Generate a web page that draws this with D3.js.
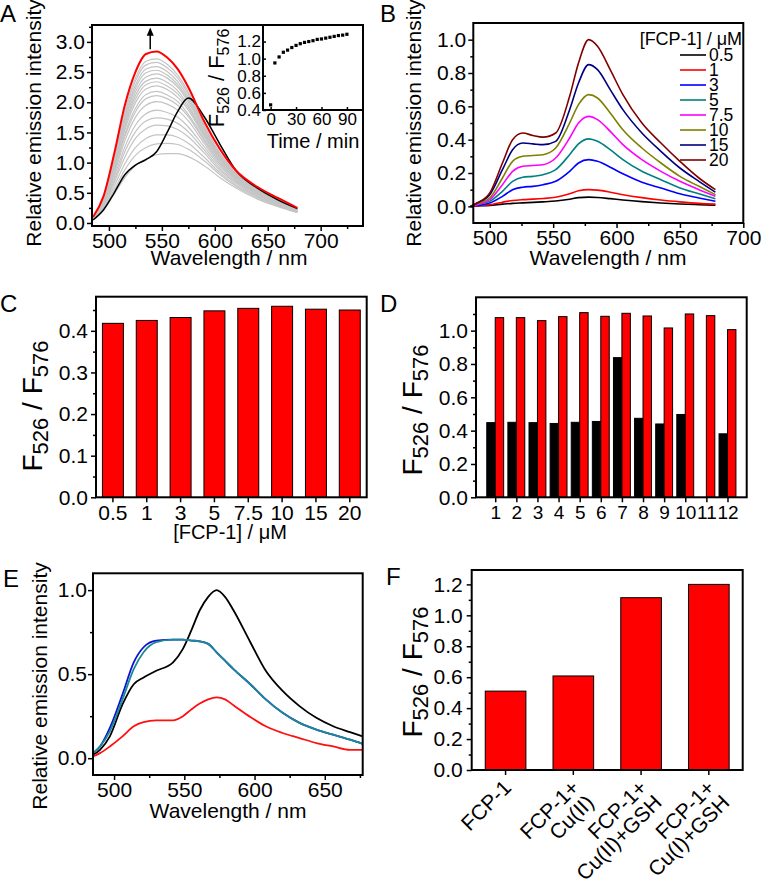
<!DOCTYPE html>
<html><head><meta charset="utf-8">
<script src="https://cdn.jsdelivr.net/npm/d3@7"></script>
<style>body{margin:0;background:#fff}svg{display:block}</style>
</head><body><svg id="c" width="762" height="896"></svg>
<script>
// ---------- Panel A data ----------
const A_wavelength = [485,495,505,515,525,535,545,555,565,575,590,605,620,640,660,678];
const A_red   = [0.10,0.45,1.15,1.95,2.50,2.80,2.84,2.74,2.55,2.25,1.68,1.22,0.87,0.60,0.41,0.25];
const A_black = [0.05,0.22,0.50,0.80,0.96,1.05,1.18,1.50,1.85,2.07,1.76,1.30,0.87,0.58,0.38,0.24];
const A_gray = [
 [0.06,0.22,0.48,0.75,0.95,1.06,1.13,1.15,1.15,1.10,0.95,0.75,0.58,0.40,0.27,0.17],
 [0.06,0.24,0.55,0.88,1.12,1.25,1.31,1.32,1.30,1.22,1.03,0.80,0.61,0.42,0.28,0.18],
 [0.07,0.26,0.61,0.98,1.25,1.40,1.46,1.46,1.42,1.32,1.09,0.83,0.63,0.44,0.29,0.18],
 [0.07,0.28,0.67,1.09,1.40,1.56,1.62,1.61,1.55,1.43,1.16,0.87,0.66,0.45,0.30,0.19],
 [0.07,0.30,0.71,1.18,1.51,1.69,1.74,1.72,1.65,1.51,1.21,0.90,0.68,0.47,0.31,0.19],
 [0.07,0.31,0.76,1.26,1.62,1.81,1.87,1.83,1.75,1.59,1.26,0.94,0.70,0.48,0.32,0.20],
 [0.08,0.33,0.81,1.36,1.75,1.95,2.01,1.97,1.87,1.69,1.32,0.97,0.72,0.49,0.33,0.20],
 [0.08,0.34,0.85,1.43,1.84,2.06,2.11,2.06,1.95,1.76,1.36,1.00,0.73,0.50,0.34,0.21],
 [0.08,0.35,0.88,1.47,1.90,2.13,2.18,2.12,2.01,1.80,1.39,1.01,0.75,0.51,0.34,0.21],
 [0.08,0.36,0.91,1.54,1.99,2.22,2.27,2.21,2.08,1.87,1.43,1.04,0.76,0.52,0.35,0.21],
 [0.08,0.37,0.94,1.59,2.05,2.29,2.34,2.27,2.14,1.91,1.46,1.05,0.77,0.53,0.35,0.22],
 [0.08,0.38,0.96,1.63,2.11,2.35,2.40,2.33,2.19,1.95,1.48,1.07,0.78,0.54,0.36,0.22],
 [0.09,0.39,0.99,1.68,2.17,2.42,2.47,2.40,2.25,2.00,1.51,1.09,0.79,0.54,0.36,0.22],
 [0.09,0.40,1.01,1.72,2.23,2.49,2.53,2.45,2.29,2.04,1.54,1.10,0.80,0.55,0.37,0.22],
 [0.09,0.40,1.03,1.76,2.28,2.55,2.59,2.51,2.34,2.08,1.57,1.12,0.81,0.56,0.37,0.23],
 [0.09,0.41,1.06,1.81,2.35,2.62,2.66,2.57,2.40,2.13,1.60,1.14,0.82,0.56,0.38,0.23],
 [0.09,0.42,1.08,1.85,2.40,2.68,2.72,2.63,2.45,2.17,1.62,1.15,0.83,0.57,0.38,0.23]
];
const A_xTicks = [500,550,600,650,700];
const A_yTicks = [0,0.5,1,1.5,2,2.5,3];
const inset_time  = [0,5,10,15,20,25,30,35,40,45,50,55,60,65,70,75,80,85,90];
const inset_ratio = [0.46,0.95,1.02,1.075,1.10,1.13,1.155,1.175,1.19,1.20,1.21,1.225,1.23,1.24,1.25,1.26,1.27,1.275,1.285];
const inset_xTicks = [0,30,60,90];
const inset_yTicks = [0.4,0.6,0.8,1.0,1.2];

// ---------- Panel B data ----------
const B_wavelength = [485,490,500,510,518,526,534,542,552,563,570,578,585,595,605,620,635,650,665,678];
const B_conc = ["0.5","1","3","5","7.5","10","15","20"];
const B_colors = ["#000000","#ff0000","#0000ff","#008080","#ff00ff","#808000","#000080","#800000"];
const B_c05 = [0.00,0.002,0.006,0.013,0.018,0.021,0.024,0.027,0.032,0.043,0.052,0.055,0.053,0.046,0.038,0.028,0.020,0.014,0.010,0.007];
const B_c1  = [0.00,0.003,0.010,0.025,0.035,0.040,0.043,0.047,0.055,0.075,0.093,0.100,0.097,0.085,0.070,0.052,0.038,0.027,0.018,0.013];
const B_c3  = [0.00,0.005,0.020,0.060,0.100,0.115,0.120,0.130,0.150,0.210,0.260,0.280,0.270,0.235,0.195,0.145,0.110,0.075,0.050,0.030];
const B_c5  = [0.00,0.010,0.030,0.090,0.150,0.175,0.180,0.190,0.220,0.310,0.375,0.405,0.390,0.340,0.280,0.210,0.160,0.110,0.075,0.045];
const B_c75 = [0.00,0.010,0.040,0.130,0.210,0.240,0.245,0.250,0.290,0.410,0.500,0.540,0.520,0.450,0.370,0.280,0.210,0.150,0.100,0.060];
const B_c10 = [0.00,0.015,0.050,0.170,0.270,0.300,0.305,0.310,0.350,0.500,0.610,0.670,0.650,0.560,0.460,0.350,0.260,0.180,0.120,0.070];
const B_c15 = [0.00,0.020,0.070,0.220,0.340,0.380,0.375,0.370,0.390,0.580,0.740,0.850,0.820,0.700,0.580,0.440,0.330,0.230,0.150,0.085];
const B_c20 = [0.00,0.020,0.080,0.260,0.400,0.440,0.425,0.415,0.440,0.660,0.860,1.000,0.960,0.820,0.670,0.500,0.380,0.270,0.170,0.100];
const B_xTicks = [500,550,600,650,700];
const B_yTicks = [0,0.2,0.4,0.6,0.8,1.0];

// ---------- Panel C data ----------
const C_labels = ["0.5","1","3","5","7.5","10","15","20"];
const C_ratio  = [0.418,0.425,0.432,0.448,0.454,0.459,0.452,0.450];
const C_yTicks = [0,0.1,0.2,0.3,0.4];

// ---------- Panel D data ----------
const D_index = [1,2,3,4,5,6,7,8,9,10,11,12];
const D_black = [0.448,0.450,0.448,0.443,0.450,0.455,0.838,0.474,0.440,0.497,0,0.381];
const D_red   = [1.078,1.078,1.060,1.084,1.108,1.086,1.104,1.088,1.016,1.100,1.090,1.006];
const D_yTicks = [0,0.2,0.4,0.6,0.8,1.0];

// ---------- Panel E data ----------
const E_wavelength = [485,490,497,506,514,521,530,542,549,555,561,567,573,579,585,597,608,620,632,644,656,668,677];
const E_black = [0.02,0.05,0.13,0.32,0.44,0.48,0.52,0.57,0.65,0.76,0.88,0.96,1.00,0.96,0.88,0.69,0.52,0.40,0.31,0.24,0.19,0.155,0.13];
const E_blue  = [0.03,0.07,0.18,0.38,0.57,0.66,0.70,0.705,0.705,0.70,0.695,0.68,0.63,0.58,0.53,0.44,0.35,0.27,0.21,0.17,0.14,0.11,0.085];
const E_teal  = [0.03,0.07,0.16,0.35,0.53,0.63,0.69,0.705,0.705,0.70,0.695,0.68,0.63,0.58,0.53,0.44,0.35,0.27,0.21,0.17,0.14,0.11,0.085];
const E_red   = [0.01,0.03,0.07,0.13,0.19,0.215,0.225,0.225,0.25,0.29,0.325,0.35,0.362,0.35,0.315,0.245,0.19,0.15,0.12,0.09,0.07,0.05,0.05];
const E_xTicks = [500,550,600,650];
const E_yTicks = [0,0.5,1.0];

// ---------- Panel F data ----------
const F_labels = [["FCP-1"],["FCP-1+","Cu(II)"],["FCP-1+","Cu(II)+GSH"],["FCP-1+","Cu(I)+GSH"]];
const F_ratio  = [0.51,0.608,1.114,1.200];
const F_yTicks = [0,0.2,0.4,0.6,0.8,1.0,1.2];

// ================= drawing =================
const FONT = '"Liberation Sans", Arial, Helvetica, sans-serif';
const svg = d3.select("#c");
const TS = 21; // tick font size

function styleAxis(g, fs) {
  g.select(".domain").remove();
  g.selectAll(".tick line").attr("stroke","#000").attr("stroke-width",1.5);
  g.selectAll(".tick text").attr("font-size",fs).attr("font-family",FONT).attr("fill","#000");
  return g;
}
function leftAxis(x0, y, ticks, minors, fmt, pad, fs, size) {
  size = size || 5;
  styleAxis(svg.append("g").attr("transform",`translate(${x0},0)`)
    .call(d3.axisLeft(y).tickValues(ticks).tickFormat(fmt).tickSize(size).tickPadding(pad)), fs);
  if (minors) styleAxis(svg.append("g").attr("transform",`translate(${x0},0)`)
    .call(d3.axisLeft(y).tickValues(minors).tickFormat(()=>"").tickSize(3)), fs);
}
function bottomAxis(y0, x, ticks, minors, fmt, pad, fs, size) {
  size = size || 5;
  const g = styleAxis(svg.append("g").attr("transform",`translate(0,${y0})`)
    .call(d3.axisBottom(x).tickValues(ticks).tickFormat(fmt).tickSize(size).tickPadding(pad)), fs);
  if (minors) styleAxis(svg.append("g").attr("transform",`translate(0,${y0})`)
    .call(d3.axisBottom(x).tickValues(minors).tickFormat(()=>"").tickSize(3)), fs);
  return g;
}
function frame(L,T,R,B,sw) {
  svg.append("rect").attr("x",L).attr("y",T).attr("width",R-L).attr("height",B-T)
    .attr("fill","none").attr("stroke","#000").attr("stroke-width",sw||2);
}
function text(x,y,str,fs,anchor,rot) {
  const t = svg.append("text").attr("font-family",FONT).attr("font-size",fs).attr("fill","#000")
    .attr("text-anchor",anchor||"middle");
  if (rot) t.attr("transform",`translate(${x},${y}) rotate(${rot})`);
  else t.attr("x",x).attr("y",y);
  t.text(str);
  return t;
}
function ratioTitle(x,y,fs,sub) {
  const t = svg.append("text").attr("font-family",FONT).attr("font-size",fs).attr("fill","#000")
    .attr("text-anchor","middle").attr("transform",`translate(${x},${y}) rotate(-90)`);
  const sh = fs*0.22;
  t.append("tspan").text("F");
  t.append("tspan").attr("font-size",sub).attr("dy",sh).text("526");
  t.append("tspan").attr("dy",-sh).text(" / F");
  t.append("tspan").attr("font-size",sub).attr("dy",sh).text("576");
}
function range(a,b,s){const r=[];for(let v=a;v<=b+1e-9;v+=s)r.push(+v.toFixed(4));return r;}
const f1 = d3.format(".1f");

// ---------- Panel A ----------
{
  const L=92,R=363,T=25,B=226;
  const x = d3.scaleLinear([484,740],[L,R]);
  const y = d3.scaleLinear([-0.05,3.28],[B,T]);
  const line = d3.line().x((d,i)=>x(A_wavelength[i])).y(d=>y(d)).curve(d3.curveMonotoneX);
  A_gray.forEach(s=>svg.append("path").attr("d",line(s)).attr("fill","none").attr("stroke","#c4c4c4").attr("stroke-width",1.2));
  svg.append("path").attr("d",line(A_black)).attr("fill","none").attr("stroke","#000").attr("stroke-width",1.5);
  svg.append("path").attr("d",line(A_red)).attr("fill","none").attr("stroke","#ff0000").attr("stroke-width",2);
  // arrow
  const ax = x(539);
  svg.append("line").attr("x1",ax).attr("x2",ax).attr("y1",y(2.88)).attr("y2",y(3.12)).attr("stroke","#000").attr("stroke-width",1.5);
  svg.append("path").attr("d",`M${ax-3.5},${y(3.1)}L${ax+3.5},${y(3.1)}L${ax},${y(3.24)}Z`).attr("fill","#000");
  leftAxis(L,y,A_yTicks,range(0.25,3.25,0.5),f1,2,TS);
  bottomAxis(B,x,A_xTicks,range(525,725,50),d3.format("d"),2,TS);
  // inset
  const iL=263,iR=363,iT=27,iB=110;
  const ix = d3.scaleLinear([-9,109],[iL,iR]);
  const iy = d3.scaleLinear([0.4,1.37],[iB,iT]);
  svg.append("g").selectAll("rect").data(inset_time).join("rect")
    .attr("x",(d)=>ix(d)-1.6).attr("y",(d,i)=>iy(inset_ratio[i])-1.6).attr("width",3.2).attr("height",3.2).attr("fill","#000");
  leftAxis(iL,iy,inset_yTicks,null,f1,2,17,-3);
  bottomAxis(iB,ix,inset_xTicks,null,d3.format("d"),3,17,-3);
  svg.append("path").attr("d",`M${iL},${T}V${iB}H${R}`).attr("fill","none").attr("stroke","#000").attr("stroke-width",2);
  frame(L,T,R,B);
  text(41,123,"Relative emission intensity",21,"middle",-90);
  text(229,265,"Wavelength / nm",21);
  text(313,148,"Time / min",20);
  ratioTitle(224,78,22,16);
  text(0,22,"A",24,"start");
}

// ---------- Panel B ----------
{
  const L=473.3,R=743.3,T=23,B=223;
  const x = d3.scaleLinear([487,700],[L,R]);
  const y = d3.scaleLinear([-0.1,1.1],[B,T]);
  const line = d3.line().x((d,i)=>x(B_wavelength[i])).y(d=>y(d)).curve(d3.curveMonotoneX);
  const series = [B_c05,B_c1,B_c3,B_c5,B_c75,B_c10,B_c15,B_c20];
  series.forEach((s,i)=>svg.append("path").attr("d",line(s)).attr("fill","none").attr("stroke",B_colors[i]).attr("stroke-width",1.6));
  leftAxis(L,y,B_yTicks,range(0.1,0.9,0.2),f1,2,TS);
  bottomAxis(B,x,B_xTicks,range(525,675,50),d3.format("d"),2,TS);
  frame(L,T,R,B);
  text(421,123,"Relative emission intensity",21,"middle",-90);
  text(608,265,"Wavelength / nm",21);
  text(742,45,"[FCP-1] / \u03bcM",18,"end");
  const lg = svg.append("g");
  B_conc.forEach((c,i)=>{
    const yy = 55 + i*15;
    lg.append("line").attr("x1",680).attr("x2",706).attr("y1",yy).attr("y2",yy).attr("stroke",B_colors[i]).attr("stroke-width",1.6);
    lg.append("text").attr("x",709).attr("y",yy).attr("dy","0.36em").attr("font-family",FONT).attr("font-size",17.5).text(c);
  });
  text(380,22,"B",24,"start");
}

// ---------- Panel C ----------
{
  const L=96,R=366.7,T=296.7,B=497.3;
  const x = d3.scaleBand(C_labels,[L,R]).paddingInner(0.38).paddingOuter(0.19);
  const y = d3.scaleLinear([0,0.482],[B,T]);
  svg.append("g").selectAll("rect").data(C_ratio).join("rect")
    .attr("x",(d,i)=>x(C_labels[i])).attr("width",x.bandwidth())
    .attr("y",d=>y(d)).attr("height",d=>y(0)-y(d))
    .attr("fill","#ff0000").attr("stroke","#000").attr("stroke-width",1);
  leftAxis(L,y,C_yTicks,range(0.05,0.45,0.1),f1,3,TS);
  bottomAxis(B,x,C_labels,null,d=>d,3,TS);
  frame(L,T,R,B);
  ratioTitle(42,406,28,22);
  text(230,539,"[FCP-1] / \u03bcM",20);
  text(0,312,"C",24,"start");
}

// ---------- Panel D ----------
{
  const L=476,R=746.7,T=297.3,B=497.3;
  const x = d3.scaleLinear([0.09,12.91],[L,R]);
  const y = d3.scaleLinear([0,1.2],[B,T]);
  const g = svg.append("g");
  g.selectAll("rect.k").data(D_black).join("rect").attr("class","k")
    .attr("x",(d,i)=>x(D_index[i]-0.4)).attr("width",x(0.4)-x(0))
    .attr("y",d=>y(d)).attr("height",d=>y(0)-y(d))
    .attr("fill","#000").attr("stroke","#000").attr("stroke-width",1);
  g.selectAll("rect.r").data(D_red).join("rect").attr("class","r")
    .attr("x",(d,i)=>x(D_index[i])).attr("width",x(0.4)-x(0))
    .attr("y",d=>y(d)).attr("height",d=>y(0)-y(d))
    .attr("fill","#ff0000").attr("stroke","#000").attr("stroke-width",1);
  leftAxis(L,y,D_yTicks,range(0.1,1.1,0.2),f1,3,TS);
  bottomAxis(B,x,D_index,null,d3.format("d"),3,19);
  frame(L,T,R,B);
  ratioTitle(422,410,28,22);
  text(380,312,"D",24,"start");
}

// ---------- Panel E ----------
{
  const L=93,R=362.7,T=573.3,B=775;
  const x = d3.scaleLinear([485,677],[L,R]);
  const y = d3.scaleLinear([-0.1,1.1],[B,T]);
  const line = d3.line().x((d,i)=>x(E_wavelength[i])).y(d=>y(d)).curve(d3.curveMonotoneX);
  [[E_black,"#000"],[E_blue,"#1010d0"],[E_teal,"#1a8a96"],[E_red,"#ff1010"]].forEach(([s,c])=>
    svg.append("path").attr("d",line(s)).attr("fill","none").attr("stroke",c).attr("stroke-width",1.8));
  leftAxis(L,y,E_yTicks,[0.25,0.75],f1,1,TS);
  bottomAxis(B,x,E_xTicks,[525,575,625,675],d3.format("d"),2,TS);
  frame(L,T,R,B);
  text(47,686,"Relative emission intensity",21,"middle",-90);
  text(228,818,"Wavelength / nm",21);
  text(3,587,"E",24,"start");
}

// ---------- Panel F ----------
{
  const L=471.7,R=742.7,T=570,B=770;
  const cats = F_labels.map(d=>d.join(" "));
  const x = d3.scaleBand(cats,[L,R]).paddingInner(0.4).paddingOuter(0.2);
  const y = d3.scaleLinear([0,1.293],[B,T]);
  svg.append("g").selectAll("rect").data(F_ratio).join("rect")
    .attr("x",(d,i)=>x(cats[i])).attr("width",x.bandwidth())
    .attr("y",d=>y(d)).attr("height",d=>y(0)-y(d))
    .attr("fill","#ff0000").attr("stroke","#000").attr("stroke-width",1);
  leftAxis(L,y,F_yTicks,range(0.1,1.1,0.2),f1,4,TS);
  const ax = bottomAxis(B,x,cats,null,d=>d,3,TS);
  ax.selectAll(".tick text").each(function(d,i){
    const t = d3.select(this);
    t.text(null).attr("y",null).attr("dy",null).attr("text-anchor","end")
     .attr("transform","translate(7,19) rotate(-45)");
    F_labels[i].forEach((ln,j)=>t.append("tspan").attr("x",0).attr("dy",j?"1.0em":0).text(ln));
  });
  frame(L,T,R,B);
  ratioTitle(422,672,28,22);
  text(386,585,"F",24,"start");
}
</script></body></html>
